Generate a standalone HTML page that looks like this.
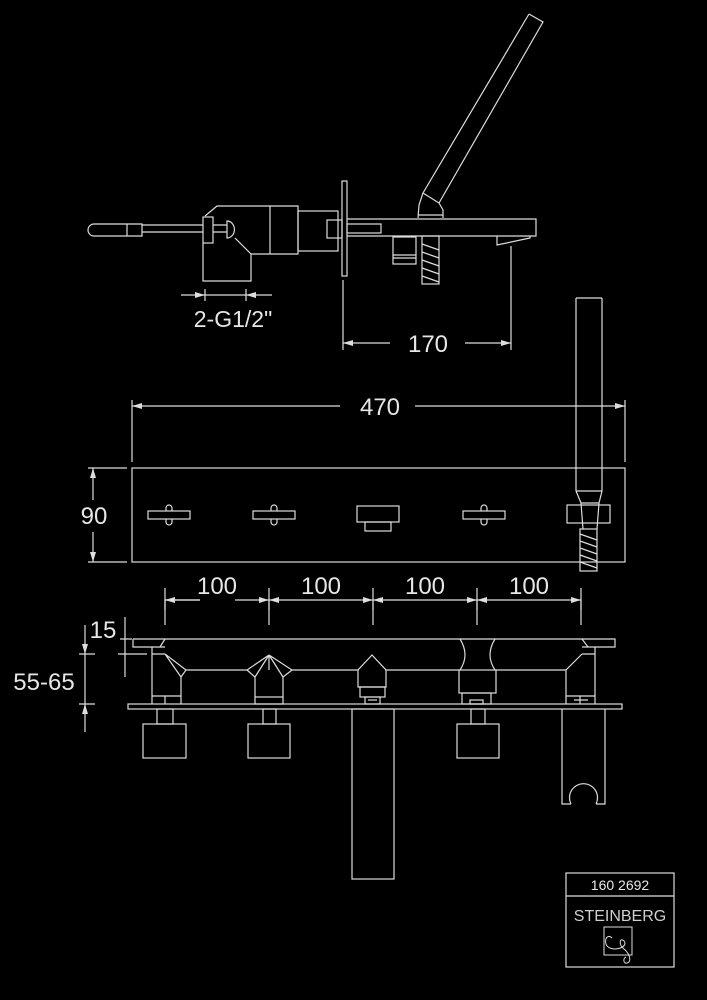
<!DOCTYPE html>
<html><head><meta charset="utf-8"><style>
html,body{margin:0;padding:0;background:#000;}
svg{display:block}
text{font-family:"Liberation Sans",sans-serif;fill:#e6e6e6}
</style></head><body>
<svg width="707" height="1000" viewBox="0 0 707 1000" xmlns="http://www.w3.org/2000/svg">
<defs>
<marker id="a" viewBox="0 0 10 6" refX="10" refY="3" markerWidth="10" markerHeight="6" orient="auto-start-reverse" markerUnits="userSpaceOnUse"><path d="M0,0L10,3L0,6z" fill="#ddd"/></marker>
</defs>
<g fill="none" stroke="#ddd" stroke-width="1.2">
<path d="M94,224 H142 V236 H94 A6,6 0 0 1 94,224 Z"/>
<line x1="127" y1="224" x2="127" y2="236"/>
<path d="M142,225 H203 M142,232 H203"/>
<rect x="203" y="217" width="10" height="26"/>
<path d="M213,225 H227 M213,232 H227"/>
<path d="M227,221 A7,8 0 0 1 227,238 Z"/>
<path d="M205,216 L217,206 H298 V254 H251 V281 H203 V243"/>
<path d="M235,238 L251,254"/>
<line x1="270" y1="206" x2="270" y2="254"/>
<rect x="298" y="211" width="40" height="40"/>
<rect x="327" y="220" width="15" height="18"/>
<rect x="342" y="181" width="5" height="95"/>
<path d="M347,219 H536 V236 H347"/>
<rect x="347" y="224" width="34" height="9"/>
<path d="M497,236 V245 L530,238 V236"/>
<rect x="393" y="237" width="23" height="27"/>
<path d="M393,255 H416 M393,258 H416"/>
<rect x="422" y="236" width="17" height="48"/>
<path d="M422,244 L439,250 M422,252 L439,258 M422,260 L439,266 M422,268 L439,274 M422,276 L439,282"/>
<path d="M529,14 L543,22 L439,203 M529,14 L423,193 L419,205 L418,218 M423,193 L439,203 L443,210 L443,218"/>
<path d="M418,215 H443"/>
<line x1="181" y1="295" x2="205" y2="295" marker-end="url(#a)"/>
<line x1="205" y1="295" x2="246" y2="295"/>
<line x1="272" y1="295" x2="246" y2="295" marker-end="url(#a)"/>
<path d="M205,289 V301 M246,289 V301"/>
<path d="M343,280 V350 M511,246 V350"/>
<line x1="390" y1="343" x2="343" y2="343" marker-end="url(#a)"/>
<line x1="465" y1="343" x2="511" y2="343" marker-end="url(#a)"/>

<rect x="132" y="468" width="493" height="94"/>
<path d="M132,400 V462 M625,400 V462"/>
<line x1="340" y1="406" x2="132" y2="406" marker-end="url(#a)"/>
<line x1="415" y1="406" x2="625" y2="406" marker-end="url(#a)"/>
<path d="M88,468 H127 M88,562 H127"/>
<line x1="93" y1="500" x2="93" y2="468" marker-end="url(#a)"/>
<line x1="93" y1="532" x2="93" y2="562" marker-end="url(#a)"/>
<g id="h">
<rect x="148" y="511" width="42" height="8"/>
<path d="M166,511 V508 A3,3 0 0 1 172,508 V511 M166,519 V522 A3,3 0 0 0 172,522 V519"/>
</g>
<use href="#h" x="105"/>
<use href="#h" x="315"/>
<rect x="357" y="506" width="42" height="16"/>
<rect x="365" y="522" width="26" height="9"/>
<path d="M576,298 V491 M602,298 V491 M576,298 H602 M576,491 H602"/>
<path d="M576,491 L581,503 H599 L602,491 M581,503 L583,529 M599,503 L597,529"/>
<rect x="567" y="505" width="43" height="18"/>
<rect x="580" y="529" width="17" height="42"/>
<path d="M580,534 L597,540 M580,541 L597,547 M580,548 L597,554 M580,555 L597,561 M580,562 L597,568"/>
<path d="M165,588 V610 M269,588 V610 M373,588 V610 M477,588 V610 M581,588 V610"/>
<line x1="200" y1="600" x2="165" y2="600" marker-end="url(#a)"/><line x1="235" y1="600" x2="269" y2="600" marker-end="url(#a)"/>
<line x1="304" y1="600" x2="269" y2="600" marker-end="url(#a)"/><line x1="339" y1="600" x2="373" y2="600" marker-end="url(#a)"/>
<line x1="408" y1="600" x2="373" y2="600" marker-end="url(#a)"/><line x1="443" y1="600" x2="477" y2="600" marker-end="url(#a)"/>
<line x1="512" y1="600" x2="477" y2="600" marker-end="url(#a)"/><line x1="547" y1="600" x2="581" y2="600" marker-end="url(#a)"/>
<line x1="165" y1="600" x2="200" y2="600"/><line x1="304" y1="600" x2="339" y2="600"/><line x1="408" y1="600" x2="443" y2="600"/><line x1="512" y1="600" x2="547" y2="600"/>

<path d="M165,600 V625 M269,600 V625 M373,600 V625 M477,600 V625 M581,600 V625"/>
<path d="M133,639 H615 V647 H582 M133,639 V647 H165"/>
<path d="M165,639 L160,647"/>
<path d="M582,639 L588,647"/>
<line x1="125" y1="617" x2="125" y2="677"/>
<path d="M120,639 H132 M118,654 H147"/>
<line x1="85" y1="625" x2="85" y2="654" marker-end="url(#a)"/>
<line x1="85" y1="654" x2="85" y2="704"/>
<line x1="85" y1="732" x2="85" y2="704" marker-end="url(#a)"/>
<path d="M79,654 H95 M79,704 H95"/>
<path d="M186,670 H247 M292,670 H358 M386,670 H459 M496,670 H566"/>
<path d="M152,647 V704 M165,654 L186,670 L181,677 V704 M165,654 L181,677 M152,696 H181 M165,696 V704 M152,654 H165"/>
<path d="M269,655 L247,670 L255,677 V697 M269,655 L292,670 L283,677 V697 M269,655 L255,677 M269,655 L283,677 M269,655 V670"/>
<rect x="255" y="697" width="28" height="7"/>
<path d="M372,655 L358,670 V687 H386 V670 Z"/>
<rect x="360" y="687" width="25" height="10"/>
<rect x="365" y="697" width="15" height="7"/>
<path d="M368,700 H377"/>
<path d="M460,639 Q470,655 460,670 M495,639 Q485,655 495,670"/>
<rect x="459" y="670" width="37" height="23"/>
<rect x="462" y="693" width="29" height="11"/>
<rect x="470" y="700" width="13" height="4"/>
<path d="M595,647 V704 M582,654 L566,670 V704 M566,696 H595 M580,696 V704 M582,654 H595 M574,700 H588"/>
<rect x="128" y="704" width="494" height="5"/>
<rect x="157" y="709" width="16" height="15"/><rect x="143" y="724" width="43" height="34"/>
<rect x="263" y="709" width="13" height="15"/><rect x="248" y="724" width="42" height="34"/>
<rect x="471" y="709" width="14" height="15"/><rect x="457" y="724" width="42" height="34"/>
<rect x="352" y="709" width="42" height="170"/>
<path d="M562,709 V804 H571 M605,709 V804 H596 M571,804 A14,14 0 1 1 596,804"/>

<rect x="566" y="873" width="108" height="94"/>
<line x1="566" y1="896" x2="674" y2="896"/>
<rect x="604" y="927" width="28" height="28" stroke-width="1"/>
<path d="M612,938 C606,932 602,945 610,948 C618,951 628,946 624,941 C620,937 618,944 624,949 C630,954 632,962 627,963 C623,964 623,958 626,957" stroke-width="1"/>
</g>
<g>
<text x="233" y="327" font-size="23" text-anchor="middle">2-G1/2"</text>
<text x="428" y="352" font-size="24" text-anchor="middle">170</text>
<text x="380" y="415" font-size="24" text-anchor="middle">470</text>
<text x="94" y="524" font-size="24" text-anchor="middle">90</text>
<text x="217" y="594" font-size="24" text-anchor="middle">100</text>
<text x="321" y="594" font-size="24" text-anchor="middle">100</text>
<text x="425" y="594" font-size="24" text-anchor="middle">100</text>
<text x="529" y="594" font-size="24" text-anchor="middle">100</text>
<text x="103" y="638" font-size="24" text-anchor="middle">15</text>
<text x="44" y="690" font-size="24" text-anchor="middle">55-65</text>
<text x="620" y="890" font-size="14" text-anchor="middle">160 2692</text>
<text x="620" y="921" font-size="16" text-anchor="middle" style="fill:#cfcfcf">STEINBERG</text>
</g>
</svg>
</body></html>
